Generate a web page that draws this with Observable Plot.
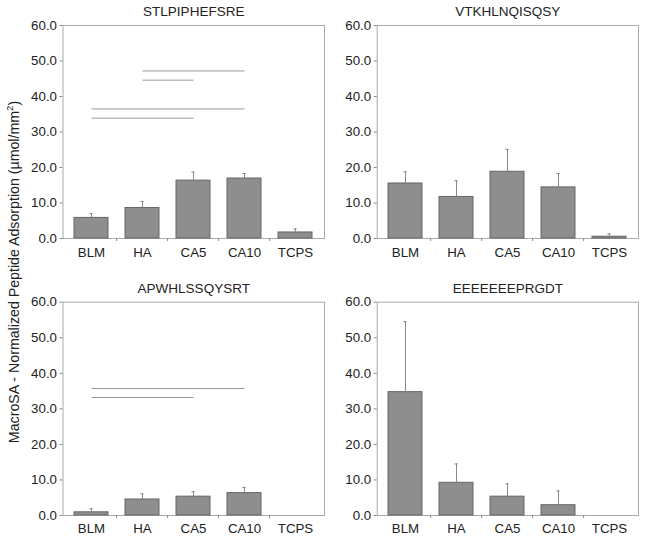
<!DOCTYPE html>
<html><head><meta charset="utf-8">
<script src="https://cdn.jsdelivr.net/npm/d3@7"></script>
<script src="https://cdn.jsdelivr.net/npm/@observablehq/plot@0.6"></script>
<style>
body{margin:0;background:#fff;font-family:"Liberation Sans",Arial,sans-serif;}
#wrap{position:relative;width:649px;height:539px;overflow:hidden;}
.panel{position:absolute;}
#ylab{position:absolute;left:14px;top:272px;transform:translate(-50%,-50%) rotate(-90deg);white-space:nowrap;font-size:14.2px;color:#222;}
#ylab sup{font-size:9.5px;vertical-align:super;line-height:0;}
</style></head><body>
<div id="wrap"><div id="ylab">MacroSA - Normalized Peptide Adsorption (µmol/mm<sup>2</sup>)</div></div>
<script>
// ---- data ----
const categories = ["BLM", "HA", "CA5", "CA10", "TCPS"];
const yTicks = [0, 10, 20, 30, 40, 50, 60];
const titles = ["STLPIPHEFSRE", "VTKHLNQISQSY", "APWHLSSQYSRT", "EEEEEEEPRGDT"];

const meanSTLP = [5.8, 8.6, 16.3, 16.9, 1.7];
const errSTLP  = [1.2, 1.8, 2.4, 1.4, 1.0];
const meanVTKH = [15.5, 11.7, 18.8, 14.4, 0.5];
const errVTKH  = [3.3, 4.6, 6.3, 3.9, 0.8];
const meanAPWH = [0.9, 4.5, 5.3, 6.3, 0];
const errAPWH  = [1.0, 1.6, 1.4, 1.6, 0];
const meanEEEE = [34.7, 9.2, 5.3, 2.9, 0];
const errEEEE  = [19.8, 5.3, 3.6, 4.0, 0];

// significance brackets: [from, to, level]
const sigSTLP = [["BLM", "CA5", 33.9], ["BLM", "CA10", 36.5], ["HA", "CA5", 44.6], ["HA", "CA10", 47.2]];
const sigVTKH = [];
const sigAPWH = [["BLM", "CA5", 33.2], ["BLM", "CA10", 35.7]];
const sigEEEE = [];

// ---- layout ----
const padIn = 0.33, padOut = 0.19;
const panels = [
  {title: titles[0], mean: meanSTLP, err: errSTLP, sig: sigSTLP, left: 0,   top: 0,   width: 325, height: 270, ml: 62.5, mr: 1,  mt: 25,   mb: 32, tp: 9.5},
  {title: titles[1], mean: meanVTKH, err: errVTKH, sig: sigVTKH, left: 325, top: 0,   width: 324, height: 270, ml: 51.7, mr: 11, mt: 25,   mb: 32, tp: 9.5},
  {title: titles[2], mean: meanAPWH, err: errAPWH, sig: sigAPWH, left: 0,   top: 270, width: 325, height: 269, ml: 62.5, mr: 1,  mt: 31.7, mb: 24, tp: 8},
  {title: titles[3], mean: meanEEEE, err: errEEEE, sig: sigEEEE, left: 325, top: 270, width: 324, height: 269, ml: 51.7, mr: 11, mt: 31.7, mb: 24, tp: 8}
];

const wrap = document.getElementById("wrap");

for (const cfg of panels) {
  const data = categories.map((c, i) => ({cat: c, mean: cfg.mean[i], top: cfg.mean[i] + cfg.err[i]}));
  const sig = cfg.sig.map(([a, b, y]) => ({from: a, to: b, y}));
  const innerW = cfg.width - cfg.ml - cfg.mr;
  const step = innerW / (categories.length - padIn + 2 * padOut);
  const bw = step * (1 - padIn);
  const capInset = (bw - 4) / 2;

  const chart = Plot.plot({
    width: cfg.width,
    height: cfg.height,
    marginLeft: cfg.ml,
    marginRight: cfg.mr,
    marginTop: cfg.mt,
    marginBottom: cfg.mb,
    style: {fontFamily: '"Liberation Sans", Arial, sans-serif', fontSize: "13.3px", color: "#222", background: "transparent", overflow: "visible"},
    x: {domain: categories, paddingInner: padIn, paddingOuter: padOut, label: null},
    y: {domain: [0, 60], label: null},
    marks: [
      Plot.frame({stroke: "#aaa"}),
      Plot.link(sig, {x1: "from", x2: "to", y1: "y", y2: "y", stroke: "#9a9a9a", strokeWidth: 1}),
      Plot.barY(data.filter(d => d.mean > 0), {x: "cat", y: "mean", fill: "#8e8e8e", stroke: "#666", strokeWidth: 1}),
      Plot.ruleX(data.filter(d => d.top > d.mean), {x: "cat", y1: "mean", y2: "top", stroke: "#888", strokeWidth: 1}),
      Plot.tickY(data.filter(d => d.top > d.mean), {x: "cat", y: "top", stroke: "#888", strokeWidth: 1, insetLeft: capInset, insetRight: capInset}),
      Plot.ruleX(categories.slice(1), {x: d => d, y1: () => 0, y2: () => 0, dx: -step / 2, insetBottom: -3, stroke: "#888"}),
      Plot.axisY({ticks: yTicks, tickFormat: d3.format(".1f"), tickSize: 3, tickPadding: 3, stroke: "#888"}),
      Plot.axisX({tickSize: 0, tickPadding: cfg.tp}),
      Plot.text([cfg.title], {frameAnchor: "top", lineAnchor: "middle", dy: -14, fontSize: 13.5, fill: "#222"})
    ]
  });
  chart.classList.add("panel");
  chart.style.left = cfg.left + "px";
  chart.style.top = cfg.top + "px";
  wrap.appendChild(chart);
}
</script>
</body></html>
